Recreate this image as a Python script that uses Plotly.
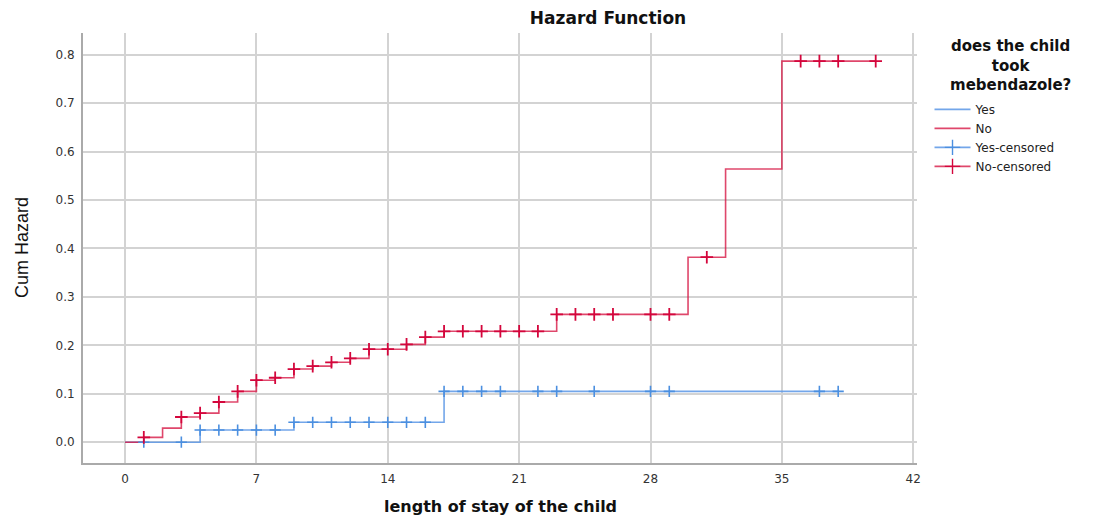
import plotly.graph_objects as go

# Step points (time, cumulative hazard) for each group
yes_time = [0, 4, 9, 17, 38]
yes_haz = [0.0, 0.025, 0.041, 0.105, 0.105]
no_time = [0, 1, 2, 3, 4, 5, 6, 7, 8, 9, 10, 11, 12, 13, 15, 16, 17, 23, 30, 32, 35, 40]
no_haz = [0.0, 0.010, 0.029, 0.052, 0.060, 0.083, 0.105, 0.128, 0.133, 0.151, 0.157,
          0.165, 0.173, 0.192, 0.202, 0.217, 0.229, 0.264, 0.382, 0.564, 0.787, 0.787]

# Censored times
yes_cens = [1, 3, 4, 5, 6, 7, 8, 9, 10, 11, 12, 13, 14, 15, 16, 17, 18, 19, 20, 22, 23, 25, 28, 29, 37, 38]
no_cens = [1, 3, 4, 5, 6, 7, 8, 9, 10, 11, 12, 13, 14, 15, 16, 17, 18, 19, 20, 21, 22,
           23, 24, 25, 26, 28, 29, 31, 36, 37, 38, 40]

x_ticks = [0, 7, 14, 21, 28, 35, 42]
y_ticks = [0.0, 0.1, 0.2, 0.3, 0.4, 0.5, 0.6, 0.7, 0.8]

BLUE_LINE = "rgba(90,150,230,0.85)"
BLUE_MK = "#4b8fe0"
RED_LINE = "rgba(215,25,70,0.8)"
RED_MK = "#d4063c"


def step_value(times, hazards, t):
    v = hazards[0]
    for ti, hi in zip(times, hazards):
        if ti <= t:
            v = hi
    return v


yes_cens_y = [step_value(yes_time, yes_haz, t) for t in yes_cens]
no_cens_y = [step_value(no_time, no_haz, t) for t in no_cens]

fig = go.Figure()
fig.add_trace(go.Scatter(x=yes_time, y=yes_haz, mode="lines", line_shape="hv",
                         line=dict(color=BLUE_LINE, width=1.6), name="Yes"))
fig.add_trace(go.Scatter(x=no_time, y=no_haz, mode="lines", line_shape="hv",
                         line=dict(color=RED_LINE, width=1.6), name="No"))
fig.add_trace(go.Scatter(x=yes_cens, y=yes_cens_y, mode="markers", showlegend=False,
                         marker=dict(symbol="cross-thin", size=8, color=BLUE_MK,
                                     line=dict(color=BLUE_MK, width=1.6)),
                         name="Yes-censored"))
fig.add_trace(go.Scatter(x=no_cens, y=no_cens_y, mode="markers", showlegend=False,
                         marker=dict(symbol="cross-thin", size=9, color=RED_MK,
                                     line=dict(color=RED_MK, width=1.8)),
                         name="No-censored"))
# legend-only entries for censored markers (line + cross icon)
fig.add_trace(go.Scatter(x=[None], y=[None], mode="lines+markers", name="Yes-censored",
                         line=dict(color=BLUE_LINE, width=1.6),
                         marker=dict(symbol="cross-thin", size=11, color=BLUE_MK,
                                     line=dict(color=BLUE_MK, width=1.4))))
fig.add_trace(go.Scatter(x=[None], y=[None], mode="lines+markers", name="No-censored",
                         line=dict(color=RED_LINE, width=1.6),
                         marker=dict(symbol="cross-thin", size=11, color=RED_MK,
                                     line=dict(color=RED_MK, width=1.4))))

grid = "#d3d3d3"
fig.update_layout(
    width=1089, height=511,
    margin=dict(l=75, r=180, t=25, b=56),
    paper_bgcolor="white", plot_bgcolor="white",
    font=dict(family="DejaVu Sans", color="#222"),
    title=dict(text="<b>Hazard Function</b>", x=0.551, xanchor="center", y=0.9804, yanchor="middle",
               font=dict(family="DejaVu Sans", size=17, color="#111")),
    xaxis=dict(range=[-2.24, 42.2], tickmode="array", tickvals=x_ticks,
               ticktext=[str(v) for v in x_ticks], automargin=False,
               showgrid=True, gridcolor=grid, gridwidth=1.5, zeroline=False,
               showline=True, linecolor="#aaaaaa", linewidth=2, ticks="",
               ticklabelstandoff=4,
               tickfont=dict(family="DejaVu Sans", size=12, color="#333")),
    yaxis=dict(range=[-0.043, 0.845], tickmode="array", tickvals=y_ticks,
               ticktext=[f"{v:.1f}" for v in y_ticks], automargin=False,
               showgrid=True, gridcolor=grid, gridwidth=1.5, zeroline=False,
               showline=True, linecolor="#aaaaaa", linewidth=2, ticks="",
               ticklabelstandoff=4,
               tickfont=dict(family="DejaVu Sans", size=12, color="#333")),
    legend=dict(x=1.015, xanchor="left", y=0.856, yanchor="top",
                font=dict(family="DejaVu Sans", size=12, color="#222"),
                tracegroupgap=0, itemwidth=36, bgcolor="rgba(0,0,0,0)"),
    annotations=[
        dict(text="<b>does the child<br>took<br>mebendazole?</b>",
             xref="paper", yref="paper", x=1.112, y=0.995,
             xanchor="center", yanchor="top", align="center", showarrow=False,
             font=dict(family="DejaVu Sans", size=15, color="#111")),
        dict(text="<b>length of stay of the child</b>", xref="paper", yref="paper",
             x=0.5, y=-0.102, xanchor="center", yanchor="middle", showarrow=False,
             font=dict(family="DejaVu Sans", size=16, color="#111")),
        dict(text="Cum Hazard", xref="paper", yref="paper", textangle=-90,
             x=-0.0731, y=0.5, xanchor="center", yanchor="middle", showarrow=False,
             font=dict(family="Liberation Sans", size=18, color="#111")),
    ],
)

fig.write_html("out.html")
